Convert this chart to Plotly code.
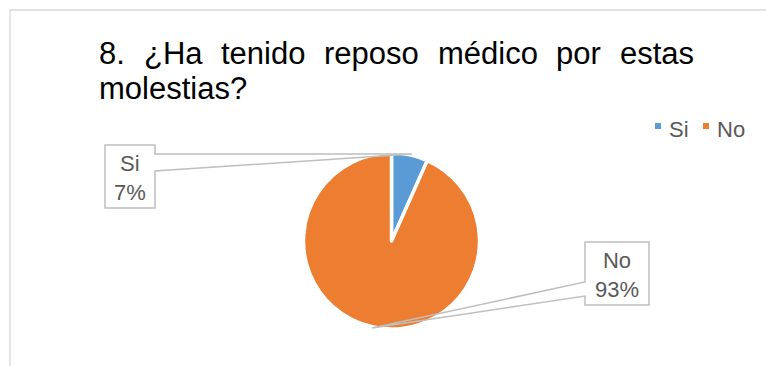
import plotly.graph_objects as go

# ---- data ----
categories = ["Si", "No"]
values = [2, 28]
colors = ["#5B9BD5", "#ED7D31"]
title_line1 = ["8.", "¿Ha", "tenido", "reposo", "médico", "por", "estas"]
title_line2 = "molestias?"

W, H = 766, 366
def px(x):
    return x / W
def py(y):
    return 1 - y / H

total = sum(values)
pct = [round(100 * v / total) for v in values]

# pie geometry (pixels)
cx, cy, r = 391.5, 241, 88

fig = go.Figure()
fig.add_trace(go.Pie(
    labels=categories, values=values, sort=False, direction="clockwise",
    rotation=0, textinfo="none", hoverinfo="label+percent",
    marker=dict(colors=colors, line=dict(color="white", width=3.5)),
    domain=dict(x=[px(cx - r), px(cx + r)], y=[py(cy + r), py(cy - r)]),
    showlegend=False,
))

shapes = []
annotations = []

# chart area border
shapes.append(dict(type="rect", xref="paper", yref="paper",
                   x0=px(10), x1=px(800), y0=py(400), y1=py(10),
                   line=dict(color="#D9D9D9", width=1.3), fillcolor="rgba(0,0,0,0)",
                   layer="below"))

# title (justified first line)
wtab = {'8': .556, '.': .278, '¿': .611, 'H': .722, 'a': .556, 't': .278, 'e': .556,
        'n': .556, 'i': .222, 'd': .556, 'o': .556, 'r': .333, 'p': .556, 's': .5,
        'm': .833, 'é': .556, 'c': .5}
fs_t = 31
x_left, x_right = 97, 692
widths = [sum(wtab[c] for c in w) * fs_t for w in title_line1]
gap = (x_right - x_left - sum(widths)) / (len(title_line1) - 1)
xx = x_left
for w, wd in zip(title_line1, widths):
    annotations.append(dict(text=w, x=px(xx), y=py(53), xref="paper", yref="paper",
                            xanchor="left", yanchor="middle", showarrow=False,
                            font=dict(family="Liberation Sans, Arial", size=fs_t, color="#000000")))
    xx += wd + gap
annotations.append(dict(text=title_line2, x=px(x_left), y=py(88), xref="paper", yref="paper",
                        xanchor="left", yanchor="middle", showarrow=False,
                        font=dict(family="Liberation Sans, Arial", size=fs_t, color="#000000")))

# data label callouts
boxes = [
    dict(x0=105, y0=145, x1=155, y1=208, tip=(412, 154), side="right", w0=154, w1=171),
    dict(x0=585, y0=242, x1=649, y1=305, tip=(372, 328), side="left", w0=282, w1=296),
]
for b, cat, p in zip(boxes, categories, pct):
    x0, y0, x1, y1 = b["x0"], b["y0"], b["x1"], b["y1"]
    tx, ty = b["tip"]
    if b["side"] == "right":
        pts = [(x0, y0), (x1, y0), (x1, b["w0"]), (tx, ty), (x1, b["w1"]), (x1, y1), (x0, y1)]
    else:
        pts = [(x0, y0), (x1, y0), (x1, y1), (x0, y1), (x0, b["w1"]), (tx, ty), (x0, b["w0"])]
    path = "M " + " L ".join(f"{px(a):.5f},{py(c):.5f}" for a, c in pts) + " Z"
    shapes.append(dict(type="path", xref="paper", yref="paper", path=path,
                       line=dict(color="#BFBFBF", width=1.5), fillcolor="rgba(0,0,0,0)",
                       layer="above"))
    annotations.append(dict(text=f"{cat}<br>{p}%", x=px((x0 + x1) / 2), y=py((y0 + y1) / 2 + 1),
                            xref="paper", yref="paper", xanchor="center", yanchor="middle",
                            showarrow=False,
                            font=dict(family="Liberation Sans, Arial", size=22, color="#595959")))

# manual legend
leg_x = [655, 703]
for cat, col, lx in zip(categories, colors, leg_x):
    shapes.append(dict(type="rect", xref="paper", yref="paper",
                       x0=px(lx), x1=px(lx + 6), y0=py(129), y1=py(123),
                       line=dict(width=0), fillcolor=col))
    annotations.append(dict(text=cat, x=px(lx + 12), y=py(129), xref="paper", yref="paper",
                            xanchor="left", yanchor="middle", showarrow=False,
                            font=dict(family="Liberation Sans, Arial", size=22, color="#595959")))

fig.update_layout(
    width=W, height=H, margin=dict(l=0, r=0, t=0, b=0),
    paper_bgcolor="white", plot_bgcolor="white",
    shapes=shapes, annotations=annotations, showlegend=False,
)
fig.write_html("out.html")
